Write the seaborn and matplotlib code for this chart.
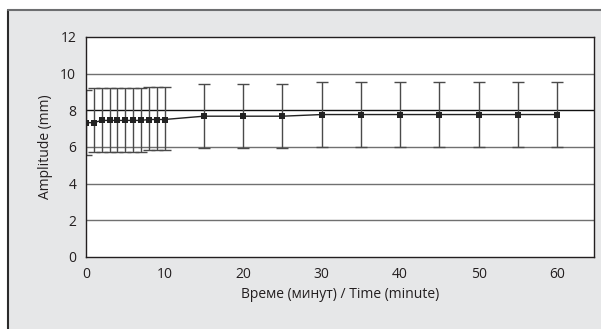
import matplotlib
matplotlib.use("Agg")
import matplotlib.pyplot as plt
from matplotlib.patches import Rectangle
from matplotlib.lines import Line2D
import seaborn as sns
import numpy as np
import pandas as pd

# values
time_min = [0, 1, 2, 3, 4, 5, 6, 7, 8, 9, 10, 15, 20, 25, 30, 35, 40, 45, 50, 55, 60]
amp_mean = [7.33, 7.33, 7.45, 7.45, 7.45, 7.45, 7.45, 7.45, 7.5, 7.5, 7.5,
            7.68, 7.68, 7.68, 7.77, 7.77, 7.77, 7.77, 7.77, 7.77, 7.77]
amp_low = [5.56, 5.75, 5.75, 5.75, 5.75, 5.75, 5.75, 5.75, 5.84, 5.84, 5.84,
           5.93, 5.93, 5.93, 6.02, 6.02, 6.02, 6.02, 6.02, 6.02, 6.02]
amp_high = [9.1, 9.2, 9.2, 9.2, 9.2, 9.2, 9.2, 9.2, 9.28, 9.28, 9.28,
            9.44, 9.44, 9.44, 9.55, 9.55, 9.55, 9.55, 9.55, 9.55, 9.55]
y_ticks = [0, 2, 4, 6, 8, 10, 12]
x_ticks = [0, 10, 20, 30, 40, 50, 60]

df = pd.DataFrame({"time": time_min, "amp": amp_mean})

sns.set_theme(style="white")
plt.rcParams['font.family'] = ['Open Sans', 'DejaVu Sans']

W, H = 601, 329
fig = plt.figure(figsize=(W / 100, H / 100), dpi=100, facecolor="white")
# grey panel behind the chart, dark left edge and grey top edge
fig.patches.append(Rectangle((7.5 / W, -0.1), 1.1, 1.1 - 9.5 / H, transform=fig.transFigure,
                             facecolor="#e6e7e8", edgecolor="none", zorder=-10))
fig.lines.append(Line2D([7.5 / W, 7.5 / W], [0, 1 - 9.5 / H], transform=fig.transFigure,
                        color="#2b2b2b", lw=1.5, zorder=-9))
fig.lines.append(Line2D([7.5 / W, 1], [1 - 9.5 / H, 1 - 9.5 / H], transform=fig.transFigure,
                        color="#6d6e70", lw=1.5, zorder=-9))

ax = fig.add_axes([86 / W, (H - 257) / H, (594 - 86) / W, (257 - 37) / H])
ax.set_zorder(5)
ax.set_facecolor("white")

for yv in y_ticks[1:-1]:
    ax.axhline(yv, color="#111111" if yv == 8 else "#707070", lw=1.0, zorder=1)

lo = np.array(amp_mean) - np.array(amp_low)
hi = np.array(amp_high) - np.array(amp_mean)
ax.errorbar(time_min, amp_mean, yerr=[lo, hi], fmt="none", ecolor="#4a4a4a",
            elinewidth=1.0, capsize=4, capthick=1.0, zorder=2)
sns.lineplot(data=df, x="time", y="amp", ax=ax, color="#222222", lw=1.0,
             marker="s", markersize=4.5, markeredgewidth=0, zorder=3)

ax.set_xlim(0, 64.7)
ax.set_ylim(0, 12)
ax.set_xticks(x_ticks)
ax.set_yticks(y_ticks)
ax.tick_params(axis="both", direction="out", length=4, width=1, color="#555555",
               labelsize=10, labelcolor="#231f20", pad=3)
for s in ax.spines.values():
    s.set_color("#231f20")
    s.set_linewidth(1.0)

ax.set_xlabel("Време (минут) / Time (minute)", fontsize=10, color="#231f20", labelpad=4)
ax.set_ylabel("Amplitude (mm)", fontsize=10, color="#231f20", labelpad=5)

fig.savefig("out.png", dpi=100, facecolor="white")
